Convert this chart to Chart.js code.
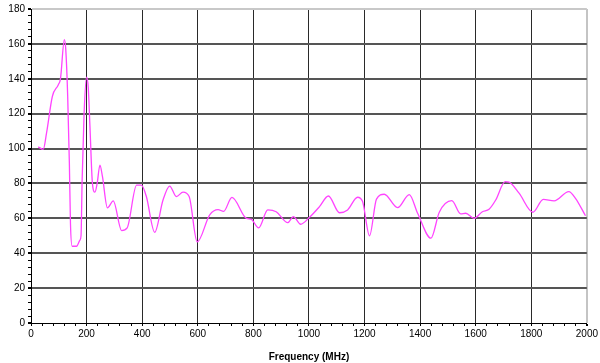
<!DOCTYPE html>
<html>
<head>
<meta charset="utf-8">
<script src="https://cdn.jsdelivr.net/npm/chart.js@4.4.0/dist/chart.umd.min.js"></script>
<style>
html,body{margin:0;padding:0;background:#fff;}
#wrap{width:600px;height:363px;}
</style>
</head>
<body>
<div id="wrap"><canvas id="c" width="600" height="363"></canvas></div>
<script>
// Frequency (MHz)
const frequencies = [26,44,56,77,98,106,120,125,132,138,142,148,164,176,180,184,191,200,206,212,221,230,238,248,257,275,296,326,346,380,397,415,445,475,499,523,547,569,598,643,673,693,723,775,792,819,852,882,924,944,970,1002,1038,1070,1110,1139,1175,1193,1218,1243,1271,1319,1361,1391,1439,1469,1514,1546,1564,1594,1624,1648,1672,1706,1720,1756,1806,1843,1882,1935,1959,1995];
// Measured level
const levels = [101,99.5,109,130,136.5,140,162.5,157,130,92,57,44,44,47.5,50,82,120,141,135,113,80,75,80,90.5,84,66,70,53,54.5,79,79,72.5,52,70.5,78.5,72.5,75,72.5,46.5,62,65,64,72,60,59.5,54.5,64.8,63.8,57.5,61,56.6,60.6,66.7,72.8,63.2,64.8,72.1,69.6,50,71,73.8,66.1,73.6,62.9,48.6,63.5,70.1,62.5,62.9,60,63.8,65.2,70.5,81,80.7,74.4,63.5,70.9,70,75.3,71.5,61.5];
const xAxisTitle = 'Frequency (MHz)';

const points = frequencies.map((f, i) => ({x: f, y: levels[i]}));
const font = {family: '"Liberation Sans", Arial, sans-serif', size: 10};

new Chart(document.getElementById('c'), {
  type: 'line',
  data: {
    datasets: [{
      data: points,
      borderColor: '#ff44ff',
      borderWidth: 1.3,
      pointRadius: 0,
      fill: false,
      cubicInterpolationMode: 'monotone'
    }]
  },
  options: {
    responsive: false,
    animation: false,
    layout: {padding: {left: 0, right: 12, top: 9, bottom: 0}},
    plugins: {legend: {display: false}, tooltip: {enabled: false}},
    scales: {
      x: {
        type: 'linear', min: 0, max: 2000,
        afterFit: s => { s.height = 40; },
        ticks: {
          stepSize: 40, autoSkip: false, maxRotation: 0, color: '#000', font: font, padding: 2,
          callback: v => (v % 200 === 0 ? String(v) : '')
        },
        grid: {
          drawOnChartArea: true,
          tickLength: 3,
          color: c => {
            const v = c.tick ? c.tick.value : 0;
            if (v % 200 !== 0 || v === 0) return 'rgba(0,0,0,0)';
            if (v === 2000) return '#c4c4c4';
            return '#2a2a2a';
          },
          lineWidth: c => (c.tick && c.tick.value === 2000 ? 2 : 1),
          tickColor: '#000'
        },
        border: {display: true, color: '#000', width: 1},
        title: {display: true, text: xAxisTitle, color: '#000', font: {family: font.family, size: 10, weight: 'bold'}, padding: {top: 2, bottom: 0}}
      },
      y: {
        type: 'linear', min: 0, max: 180,
        afterFit: s => { s.width = 31; },
        ticks: {
          stepSize: 4, autoSkip: false, color: '#000', font: font, padding: 3,
          callback: v => (v % 20 === 0 ? String(v) : '')
        },
        grid: {
          tickLength: 3,
          color: c => {
            const v = c.tick ? c.tick.value : 0;
            if (v % 20 !== 0 || v === 0) return 'rgba(0,0,0,0)';
            if (v === 180) return '#c8c8c8';
            return '#555';
          },
          lineWidth: c => (c.tick && c.tick.value % 20 === 0 ? 2 : 1),
          tickColor: '#000'
        },
        border: {display: true, color: '#000', width: 1}
      }
    }
  }
});
</script>
</body>
</html>
